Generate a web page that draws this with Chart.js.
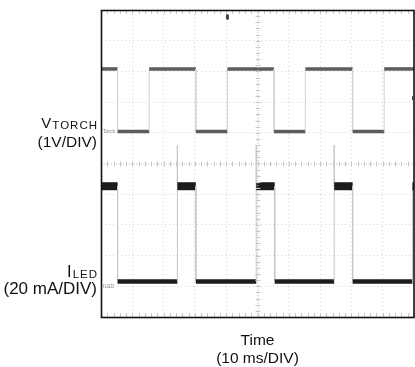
<!DOCTYPE html>
<html><head><meta charset="utf-8">
<script src="https://cdn.jsdelivr.net/npm/chart.js@4/dist/chart.umd.min.js"></script>
<style>html,body{margin:0;padding:0;background:#fff}#wrap{position:relative;width:415px;height:367px}</style>
</head><body><div id="wrap"><canvas id="c"></canvas></div>
<script>
// Time axis in ms (10 ms/DIV); vertical axis in screen divisions (0 = bottom, 10 = top)
const vTorchTimes = [0, 5.3, 5.3, 15.4, 15.4, 30.3, 30.3, 40.4, 40.4, 55.3, 55.3, 65.3, 65.3, 80.4, 80.4, 90.5, 90.5, 100];
const vTorchDivs  = [8.08, 8.08, 6.04, 6.04, 8.08, 8.08, 6.04, 6.04, 8.08, 8.08, 6.04, 6.04, 8.08, 8.08, 6.04, 6.04, 8.08, 8.08];
const iLedTimes = [0, 5.3, 5.3, 24.4, 24.4, 24.4, 30.3, 30.3, 49.6, 49.6, 49.6, 55.5, 55.5, 74.5, 74.5, 74.5, 80.4, 80.4, 99.5, 99.5, 100];
const iLedDivs  = [4.26, 4.26, 1.16, 1.16, 5.6, 4.26, 4.26, 1.16, 1.16, 5.6, 4.26, 4.26, 1.16, 1.16, 5.6, 4.26, 4.26, 1.16, 1.16, 4.26, 4.26];
const channelMarkers = [{name: 'Torch', div: 6.04}, {name: 'ILED', div: 1.0}];
const triggerTime = [40.4];
const triggerLevel = [7.13];
const xTitle = ['Time', '(10 ms/DIV)'];
const vLabel = ['V', 'TORCH', '(1V/DIV)'];
const iLabel = ['I', 'LED', '(20 mA/DIV)'];

const FONT = '"Liberation Sans", Arial, sans-serif';
const toPts = (ts, vs) => ts.map((t, i) => ({x: t, y: vs[i]}));
const isEdge = c => c.p0.parsed.x === c.p1.parsed.x;

const scopePlugin = {
  id: 'scope',
  afterDraw(chart) {
    const {ctx, chartArea: a, scales: {x, y}} = chart;
    ctx.save();
    // center axes with minor ticks
    const cx = x.getPixelForValue(50), cy = y.getPixelForValue(5);
    ctx.strokeStyle = '#bcbcbc'; ctx.lineWidth = 1;
    ctx.setLineDash([1, 1.5]);
    ctx.beginPath(); ctx.moveTo(cx + 0.5, a.top); ctx.lineTo(cx + 0.5, a.bottom);
    ctx.moveTo(a.left, cy + 0.5); ctx.lineTo(a.right, cy + 0.5); ctx.stroke();
    ctx.setLineDash([]);
    ctx.strokeStyle = '#c8c8c8';
    ctx.beginPath();
    for (let t = 0; t <= 100.001; t += 2) {
      const px = Math.round(x.getPixelForValue(t)) + 0.5;
      ctx.moveTo(px, cy - 2); ctx.lineTo(px, cy + 3);
      ctx.moveTo(px, a.top); ctx.lineTo(px, a.top + 4);
      ctx.moveTo(px, a.bottom - 4); ctx.lineTo(px, a.bottom);
    }
    for (let d = 0; d <= 10.001; d += 0.2) {
      const py = Math.round(y.getPixelForValue(d)) + 0.5;
      ctx.moveTo(cx - 2, py); ctx.lineTo(cx + 3, py);
    }
    ctx.stroke();
    // frame
    ctx.strokeStyle = '#111'; ctx.lineWidth = 1.6;
    ctx.strokeRect(a.left + 0.5, a.top + 0.5, a.right - a.left - 0.5, a.bottom - a.top);
    // channel markers
    ctx.fillStyle = '#888'; ctx.font = '5px ' + FONT; ctx.textBaseline = 'middle'; ctx.textAlign = 'left';
    channelMarkers.forEach(m => ctx.fillText(m.name, a.left + 2, y.getPixelForValue(m.div)));
    // trigger markers
    ctx.fillStyle = '#444';
    triggerTime.forEach(t => { const px = x.getPixelForValue(t); ctx.beginPath(); ctx.ellipse(px, a.top + 7, 1.6, 3, 0, 0, Math.PI * 2); ctx.fill(); });
    triggerLevel.forEach(d => { const py = y.getPixelForValue(d); ctx.fillRect(a.right - 2, py - 2, 2, 4); });
    // labels
    ctx.fillStyle = '#111'; ctx.textBaseline = 'alphabetic';
    const sub = (main, s, rightX, base, fMain, fSub) => {
      ctx.font = fSub + 'px ' + FONT;
      ctx.letterSpacing = '1px';
      const ws = ctx.measureText(s).width;
      ctx.textAlign = 'left'; ctx.fillText(s, rightX - ws + 1, base + 0.5);
      ctx.letterSpacing = '0px';
      ctx.font = fMain + 'px ' + FONT; ctx.textAlign = 'right'; ctx.fillText(main, rightX - ws, base);
    };
    sub(vLabel[0], vLabel[1], 97, 128.3, 15, 11.5);
    ctx.font = '15.5px ' + FONT; ctx.textAlign = 'right'; ctx.fillText(vLabel[2], 97, 146.5);
    sub(iLabel[0], iLabel[1], 97, 277.3, 16.5, 11.5);
    ctx.font = '17px ' + FONT; ctx.textAlign = 'right'; ctx.fillText(iLabel[2], 97, 293.5);
    ctx.font = '15.5px ' + FONT; ctx.textAlign = 'center';
    ctx.fillText(xTitle[0], cx, 345); ctx.fillText(xTitle[1], cx, 362.7);
    ctx.restore();
  }
};

new Chart(document.getElementById('c'), {
  type: 'line',
  data: {
    datasets: [
      {
        label: 'VTORCH', data: toPts(vTorchTimes, vTorchDivs),
        pointRadius: 0, tension: 0, fill: false,
        borderColor: '#5c5c5c', borderWidth: 3.5,
        segment: {
          borderColor: c => isEdge(c) ? '#d2d2d2' : '#5c5c5c',
          borderWidth: c => isEdge(c) ? 1 : 3.5
        }
      },
      {
        label: 'ILED', data: toPts(iLedTimes, iLedDivs),
        pointRadius: 0, tension: 0, fill: false,
        borderColor: '#1c1c1c', borderWidth: 5,
        segment: {
          borderColor: c => isEdge(c) ? '#c6c6c6' : '#1c1c1c',
          borderWidth: c => isEdge(c) ? 1 : (c.p0.parsed.y > 3 ? 8 : 4.5)
        }
      }
    ]
  },
  options: {
    responsive: true, maintainAspectRatio: false, animation: false,
    layout: {padding: {left: 101, top: 10, right: 1, bottom: 50}},
    plugins: {legend: {display: false}, tooltip: {enabled: false}},
    scales: {
      x: {
        type: 'linear', min: 0, max: 100,
        ticks: {display: false, stepSize: 10},
        grid: {color: c => (c.tick.value === 0 || c.tick.value === 100 || c.tick.value === 50) ? 'rgba(0,0,0,0)' : '#d2d2d2', lineWidth: 1, drawTicks: false},
        border: {display: false, dash: [1, 3]}
      },
      y: {
        type: 'linear', min: 0, max: 10,
        ticks: {display: false, stepSize: 1},
        grid: {color: c => (c.tick.value === 0 || c.tick.value === 10 || c.tick.value === 5) ? 'rgba(0,0,0,0)' : '#d2d2d2', lineWidth: 1, drawTicks: false},
        border: {display: false, dash: [1, 3]}
      }
    }
  },
  plugins: [scopePlugin]
});
</script></body></html>
